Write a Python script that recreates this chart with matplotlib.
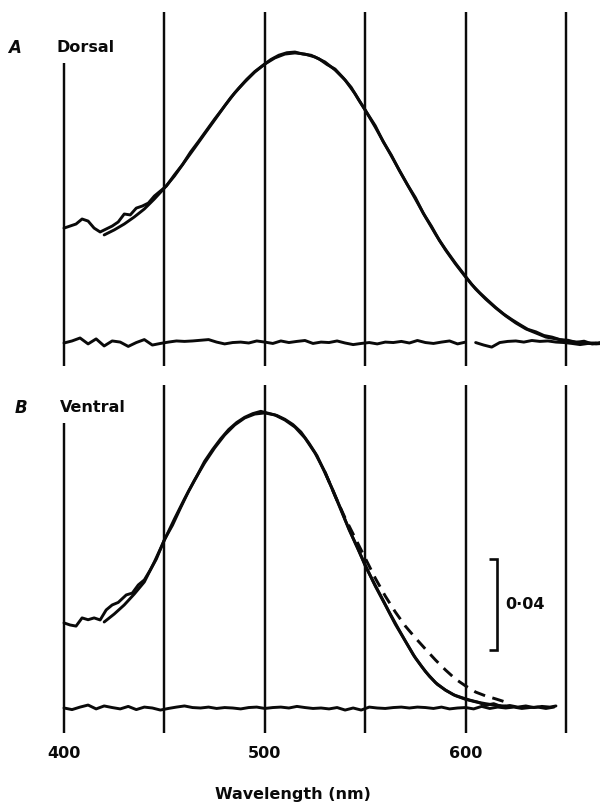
import matplotlib
matplotlib.use("Agg")
import matplotlib.pyplot as plt
from matplotlib.transforms import blended_transform_factory

plt.rcParams['font.family'] = ['DejaVu Sans']

# ---------------- data (absorbance in milli-OD, wavelength in nm) ----------------
grid_nm = [400, 450, 500, 550, 600, 650]
tick_nm = [400, 500, 600]
tick_labels = ['400', '500', '600']
xlabel = 'Wavelength (nm)'
scale_bar_mOD = 40
scale_label = '0\u00b704'

# Panel A (Dorsal)
dorsal_fit_nm = [420, 425, 430, 435, 440, 445, 450, 455, 460, 465, 470, 475, 480, 485, 490,
                 495, 500, 505, 510, 515, 520, 525, 530, 535, 540, 545, 550, 555, 560, 565,
                 570, 575, 580, 585, 590, 595, 600, 605, 610, 615, 620, 625, 630, 635, 640,
                 645, 650, 655, 660, 665]
dorsal_fit = [47.5, 49.7, 52.3, 55.4, 58.9, 63.3, 68.1, 73.4, 79.6, 85.7, 91.9, 98.0, 104.2,
              109.9, 114.7, 119.1, 122.6, 125.3, 127.0, 127.5, 127.0, 125.7, 123.5, 120.0,
              115.6, 109.5, 102.4, 94.9, 87.0, 79.1, 71.2, 63.3, 55.4, 47.9, 40.9, 34.7, 29.0,
              23.7, 19.3, 15.4, 11.9, 8.8, 6.2, 4.4, 2.6, 1.8, 0.9, 0.4, 0.0, 0.0]

dorsal_data_nm = [400, 403, 406, 409, 412, 415, 418, 421, 424, 427, 430, 433, 436, 439, 442,
                  445, 448, 451, 455, 459, 463, 467, 471, 475, 479, 483, 487, 491, 495, 499,
                  503, 507, 511, 515, 519, 523, 527, 531, 535, 539, 543, 547, 551, 555, 559,
                  563, 567, 571, 575, 579, 583, 587, 591, 595, 599, 603, 607, 611, 615, 619,
                  623, 627, 631, 635, 639, 643, 647, 651, 655, 659, 663, 667]
dorsal_data = [50.5, 51.4, 52.3, 54.5, 53.6, 50.5, 48.8, 50.1, 51.4, 53.2, 56.7, 56.3, 59.3,
               60.2, 61.5, 64.6, 66.8, 69.0, 73.9, 78.4, 83.9, 88.6, 93.5, 98.4, 103.0, 107.8,
               112.0, 115.9, 119.3, 122.0, 124.6, 126.5, 127.6, 127.9, 127.0, 126.5, 124.9,
               122.4, 120.4, 116.6, 112.4, 106.5, 101.0, 95.5, 88.4, 82.6, 75.8, 69.6, 63.9,
               56.9, 51.3, 45.0, 39.9, 35.0, 30.4, 25.8, 22.1, 18.8, 15.6, 12.7, 10.3, 8.1,
               6.0, 4.9, 3.3, 2.6, 1.5, 1.2, 0.3, 0.8, -0.4, 0.2]

dorsal_base1_nm = [400, 404, 408, 412, 416, 420, 424, 428, 432, 436, 440, 444, 448, 452, 456,
                   460, 464, 468, 472, 476, 480, 484, 488, 492, 496, 500, 504, 508, 512, 516,
                   520, 524, 528, 532, 536, 540, 544, 548, 552, 556, 560, 564, 568, 572, 576,
                   580, 584, 588, 592, 596, 600]
dorsal_base1 = [0.0, 0.9, 2.2, -0.4, 1.8, -1.3, 0.9, 0.4, -1.5, 0.2, 1.5, -0.9, -0.2, 0.4,
                0.9, 0.7, 0.9, 1.2, 1.5, 0.4, -0.4, 0.2, 0.4, 0.0, 0.9, 0.4, -0.2, 0.9, 0.2,
                0.7, 1.1, -0.2, 0.4, 0.2, 0.9, 0.0, -0.7, -0.2, 0.2, -0.4, 0.4, 0.2, 0.7, 0.0,
                1.1, 0.2, -0.2, 0.4, 0.9, -0.4, 0.4]
dorsal_base2_nm = [605, 609, 613, 617, 621, 625, 629, 633, 637, 641, 645, 649, 653, 657, 661,
                   665, 668]
dorsal_base2 = [0.2, -0.9, -1.8, 0.2, 0.7, 0.9, 0.4, 1.1, 0.7, 0.9, 0.4, 0.2, -0.2, -0.7,
                -0.2, -0.4, -0.2]

# Panel B (Ventral)
ventral_fit_nm = [420, 425, 430, 435, 440, 445, 450, 455, 460, 465, 470, 475, 480, 485, 490,
                  495, 500, 505, 510, 515, 520, 525, 530, 535, 540, 545, 550, 555, 560, 565,
                  570, 575, 580, 585, 590, 595, 600, 605, 610, 615, 620]
ventral_fit = [37.8, 41.3, 45.3, 50.1, 55.4, 64.2, 73.8, 83.1, 91.9, 100.2, 107.7, 114.3,
               120.0, 124.4, 127.5, 129.2, 129.7, 128.8, 126.6, 123.5, 118.7, 112.1, 103.7,
               93.2, 82.6, 72.5, 62.9, 53.6, 45.3, 36.8, 29.4, 22.0, 16.0, 11.2, 7.8, 5.4,
               3.8, 2.7, 1.9, 1.2, 0.8]

ventral_alt_nm = [530, 535, 540, 545, 550, 555, 560, 565, 570, 575, 580, 585, 590, 595, 600,
                  605, 610, 615, 620]
ventral_alt = [103.7, 93.2, 83.5, 74.7, 65.9, 57.1, 49.2, 42.2, 36.0, 30.8, 25.9, 21.1, 16.7,
               12.7, 9.7, 7.0, 5.3, 4.0, 2.6]

ventral_data_nm = [400, 403, 406, 409, 412, 415, 418, 421, 424, 427, 431, 434, 437, 440, 443,
                   446, 450, 454, 458, 462, 466, 470, 474, 478, 482, 486, 490, 494, 498, 502,
                   506, 510, 514, 518, 522, 526, 530, 534, 538, 542, 546, 550, 554, 558, 562,
                   566, 570, 574, 578, 582, 586, 590, 594, 598, 602, 606, 610, 614, 618, 622,
                   626, 630, 634, 638, 642, 645]
ventral_data = [37.4, 36.5, 36.0, 39.6, 38.8, 39.6, 38.7, 43.1, 45.3, 46.4, 49.7, 50.5, 54.1,
                56.3, 60.7, 65.5, 74.0, 80.3, 87.9, 95.2, 101.6, 108.4, 113.6, 118.3, 122.4,
                125.5, 127.8, 129.4, 130.4, 129.5, 128.6, 126.9, 124.6, 121.3, 116.4, 110.9,
                103.3, 95.6, 87.2, 78.3, 70.9, 62.5, 55.6, 48.9, 42.1, 35.7, 29.4, 23.3, 18.4,
                13.9, 10.3, 7.9, 5.8, 4.6, 3.5, 2.6, 1.2, 1.9, 0.6, 1.1, 0.4, 0.9, 0.2, 0.7,
                0.4, 0.9]

ventral_base_nm = [400, 404, 408, 412, 416, 420, 424, 428, 432, 436, 440, 444, 448, 452, 456,
                   460, 464, 468, 472, 476, 480, 484, 488, 492, 496, 500, 504, 508, 512, 516,
                   520, 524, 528, 532, 536, 540, 544, 548, 552, 556, 560, 564, 568, 572, 576,
                   580, 584, 588, 592, 596, 600, 604, 608, 612, 616, 620, 624, 628, 632, 636,
                   640, 644]
ventral_base = [0.0, -0.7, 0.4, 1.3, -0.4, 0.9, 0.2, -0.4, 0.7, -0.7, 0.4, 0.0, -0.9, -0.2,
                0.4, 0.9, 0.2, 0.0, 0.4, -0.2, 0.2, 0.0, -0.4, 0.2, 0.4, -0.2, 0.2, 0.4, 0.0,
                0.7, 0.2, -0.2, 0.0, -0.4, 0.2, -0.9, 0.0, -0.9, 0.4, 0.0, -0.2, 0.2, 0.4, 0.0,
                0.4, 0.2, -0.2, 0.4, -0.4, 0.0, 0.2, -0.4, 0.7, -0.2, 0.4, 0.0, 0.4, -0.2, 0.2,
                0.4, -0.2, 0.4]

# ---------------- layout ----------------
W, H = 600, 802
PX_PER_NM = 2.008
X400_PX = 64
PX_PER_MOD = 2.275
INK = '#0a0a0a'
LW = 2.1

fig = plt.figure(figsize=(W / 100, H / 100), dpi=100)
fig.patch.set_facecolor('white')


def make_axes(top_px, bottom_px, base_px):
    ax = fig.add_axes([0, 1 - bottom_px / H, 1, (bottom_px - top_px) / H])
    ax.set_xlim(400 - X400_PX / PX_PER_NM, 400 + (W - X400_PX) / PX_PER_NM)
    ax.set_ylim(-(bottom_px - base_px) / PX_PER_MOD, (base_px - top_px) / PX_PER_MOD)
    ax.axis('off')
    ax._base_px = base_px
    return ax


def ypx(ax, px):
    return (ax._base_px - px) / PX_PER_MOD


axA = make_axes(0, 372, 343)
axB = make_axes(372, 802, 708)


def draw_grid(ax, top_first, top_other, bottom):
    for i, nm in enumerate(grid_nm):
        top = top_first if i == 0 else top_other
        ax.plot([nm, nm], [ypx(ax, bottom), ypx(ax, top)], color=INK, lw=1.75,
                solid_capstyle='butt')


draw_grid(axA, 63, 12, 366)
draw_grid(axB, 423, 385, 733)

kw = dict(color=INK, lw=LW, solid_joinstyle='round', solid_capstyle='round')
# Panel A
axA.plot(dorsal_base1_nm, dorsal_base1, **kw)
axA.plot(dorsal_base2_nm, dorsal_base2, **kw)
axA.plot(dorsal_fit_nm, dorsal_fit, **kw)
axA.plot(dorsal_data_nm, dorsal_data, **kw)

# Panel B
axB.plot(ventral_base_nm, ventral_base, **kw)
axB.plot(ventral_alt_nm, ventral_alt, color=INK, lw=LW, ls=(0, (4.0, 2.6)),
         dash_capstyle='butt')
axB.plot(ventral_fit_nm, ventral_fit, **kw)
axB.plot(ventral_data_nm, ventral_data, **kw)

# scale bar (0.04 OD)
bar_x = 400 + (497 - X400_PX) / PX_PER_NM
serif_x = 400 + (489 - X400_PX) / PX_PER_NM
bar_bottom = ypx(axB, 650)
axB.plot([serif_x, bar_x, bar_x, serif_x],
         [bar_bottom, bar_bottom, bar_bottom + scale_bar_mOD, bar_bottom + scale_bar_mOD],
         color=INK, lw=1.9, solid_joinstyle='miter', solid_capstyle='butt')
axB.text(bar_x + 8 / PX_PER_NM, bar_bottom + scale_bar_mOD / 2, scale_label,
         fontsize=11.5, fontweight='bold', color=INK, ha='left', va='center')


# panel labels
def ftext(xpx, ypx_, s, **k):
    fig.text(xpx / W, 1 - ypx_ / H, s, color=INK, va='center', **k)


ftext(8, 48, 'A', fontsize=12, fontweight='bold', fontstyle='italic', ha='left')
ftext(57, 48, 'Dorsal', fontsize=11.5, fontweight='bold', ha='left')
ftext(15, 408, 'B', fontsize=12, fontweight='bold', fontstyle='italic', ha='left')
ftext(60, 408, 'Ventral', fontsize=11.5, fontweight='bold', ha='left')

# wavelength tick labels
tr = blended_transform_factory(axB.transData, fig.transFigure)
for nm, lab in zip(tick_nm, tick_labels):
    axB.text(nm, 1 - 753 / H, lab, transform=tr, fontsize=11.5, fontweight='bold',
             color=INK, ha='center', va='center')
fig.text(293 / W, 1 - 794 / H, xlabel, fontsize=11.5, fontweight='bold', color=INK,
         ha='center', va='center')

fig.savefig('out.png', dpi=100, facecolor='white')
